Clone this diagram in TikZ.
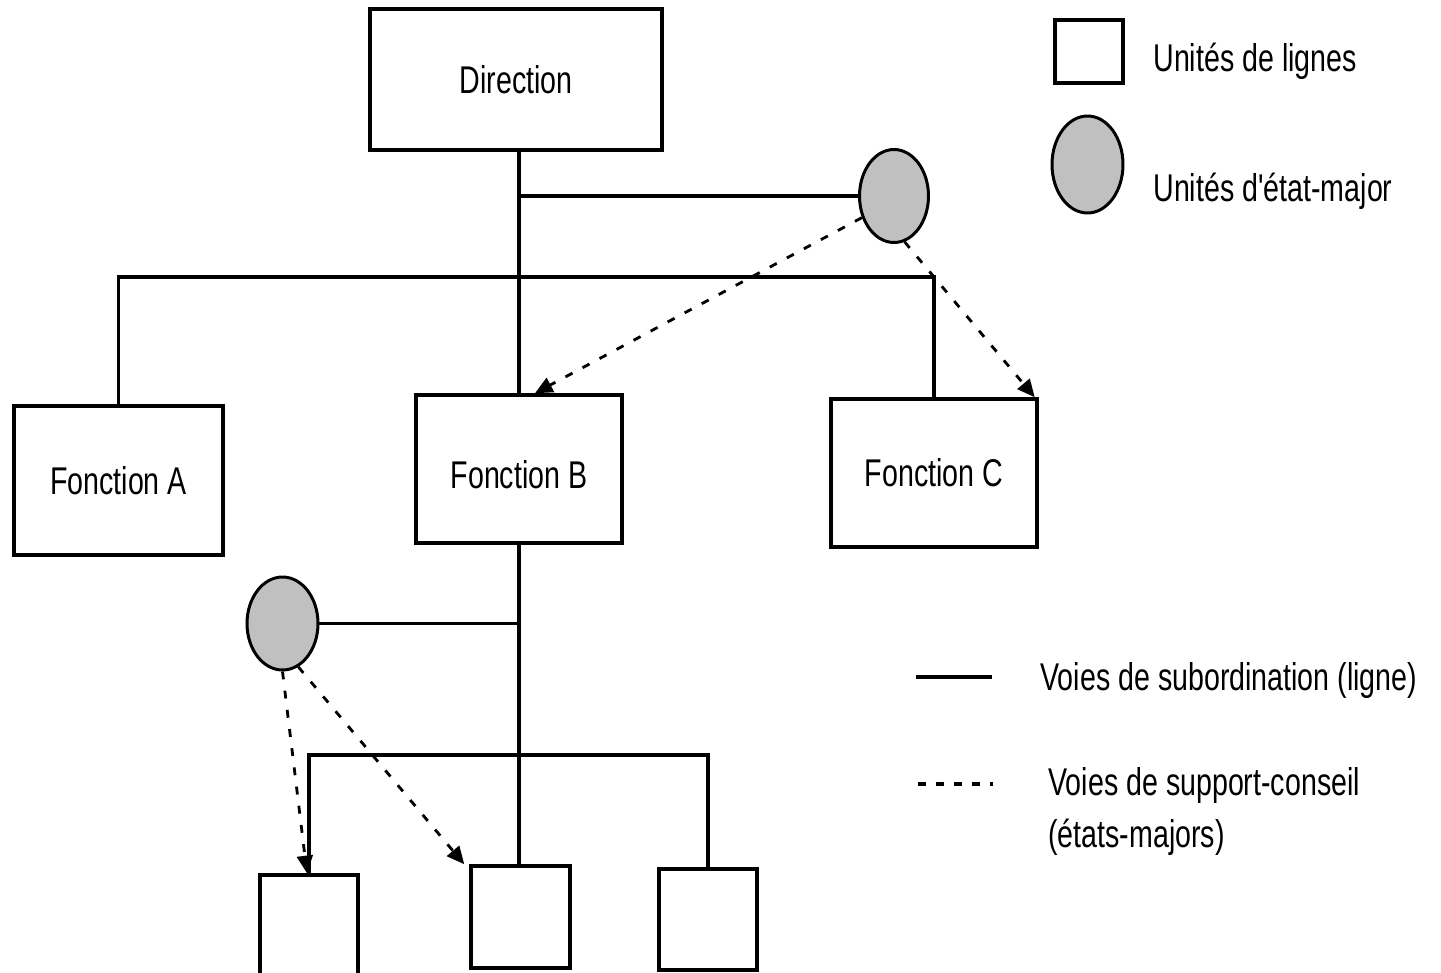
\documentclass[tikz,border=0pt]{standalone}
\usepackage{fontspec}
\newfontfamily\lab[FakeStretch=0.74]{Liberation Sans}
\usetikzlibrary{arrows.meta,calc,shapes.geometric}
\definecolor{staffgray}{HTML}{C0C0C0}
\begin{document}
\begin{tikzpicture}[x=0.02cm,y=-0.02cm,
  every node/.style={font=\lab\fontsize{22}{26}\selectfont},
  unit/.style={draw,line width=2pt,rectangle,inner sep=0pt,fill=white},
  staff/.style={draw,line width=1.7pt,ellipse,inner sep=0pt,fill=staffgray},
  lineconn/.style={line width=2pt},
  advice/.style={line width=1.6pt,dash pattern=on 4.5pt off 6.5pt,-{Triangle[length=10pt,width=9pt]}},
  legtext/.style={anchor=base west,inner sep=0pt}]
\useasboundingbox (0,0) rectangle (1441,973);
% main units
\node[unit,minimum width=5.84cm,minimum height=2.82cm] (D) at (516,79.5) {Direction};
\node[unit,minimum width=4.18cm,minimum height=2.98cm] (FA) at (118.5,480.5) {Fonction A};
\node[unit,minimum width=4.12cm,minimum height=2.96cm,text depth=0pt,text height=0.8cm] (FB) at (519,469) {Fonction B};
\node[unit,minimum width=4.12cm,minimum height=2.96cm] (FC) at (934,473) {Fonction C};
\node[staff,minimum width=1.38cm,minimum height=1.86cm] (E1) at (894,196) {};
\node[staff,minimum width=1.42cm,minimum height=1.86cm] (E2) at (282.5,623.5) {};
\node[unit,minimum width=1.96cm,minimum height=2.30cm] (B1) at (309,932.5) {};
\node[unit,minimum width=1.98cm,minimum height=2.04cm] (B2) at (520.5,917) {};
\node[unit,minimum width=1.96cm,minimum height=2.02cm] (B3) at (708,919.5) {};
% line connections
\coordinate (bar1) at (518,277);
\coordinate (bar2) at (520,755);
\draw[lineconn] (FB.north |- D.south) -- (FB.north);
\draw[lineconn] (E1.west -| FB.north) -- (E1.west);
\draw[lineconn] (FA.north) |- (bar1) -| (FC.north);
\draw[lineconn] (FB.south) -- (B2.north -| FB.south);
\draw[lineconn] (E2.east) -- (E2.east -| FB.south);
\draw[lineconn] (B1.north) |- (bar2) -| (B3.north);
% advice connections
\draw[advice] (E1.214) -- ($(FB.north)+(16,0)$);
\draw[advice] (E1.283) -- ($(FC.north east)+(-4,0)$);
\draw[advice] (E2.south) -- ($(B1.north)+(-2,0)$);
\draw[advice] (E2.290) -- ($(B2.north west)+(-5,0)$);
% legend
\node[unit,minimum width=1.36cm,minimum height=1.26cm] (LU) at (1089,51.5) {};
\node[staff,minimum width=1.42cm,minimum height=1.94cm] (LE) at (1087.5,164.5) {};
\node[legtext] (LUt) at (1153,72) {Unités de lignes};
\node[legtext] (LEt) at (1153,202) {Unités d'état-major};
\coordinate (LS1) at (916,677);
\coordinate (LS2) at (992,677);
\draw[line width=2.8pt] (LS1) -- (LS2);
\node[legtext] (LSt) at (1040,690) {Voies de subordination (ligne)};
\coordinate (LD1) at (918,784);
\coordinate (LD2) at (993,784);
\draw[line width=2pt,dash pattern=on 4.5pt off 5.7pt] (LD1) -- (LD2);
\node[legtext] (LDt) at (1048,795) {Voies de support-conseil};
\node[legtext] (LDt2) at (1048,847) {(états-majors)};
\end{tikzpicture}
\end{document}
